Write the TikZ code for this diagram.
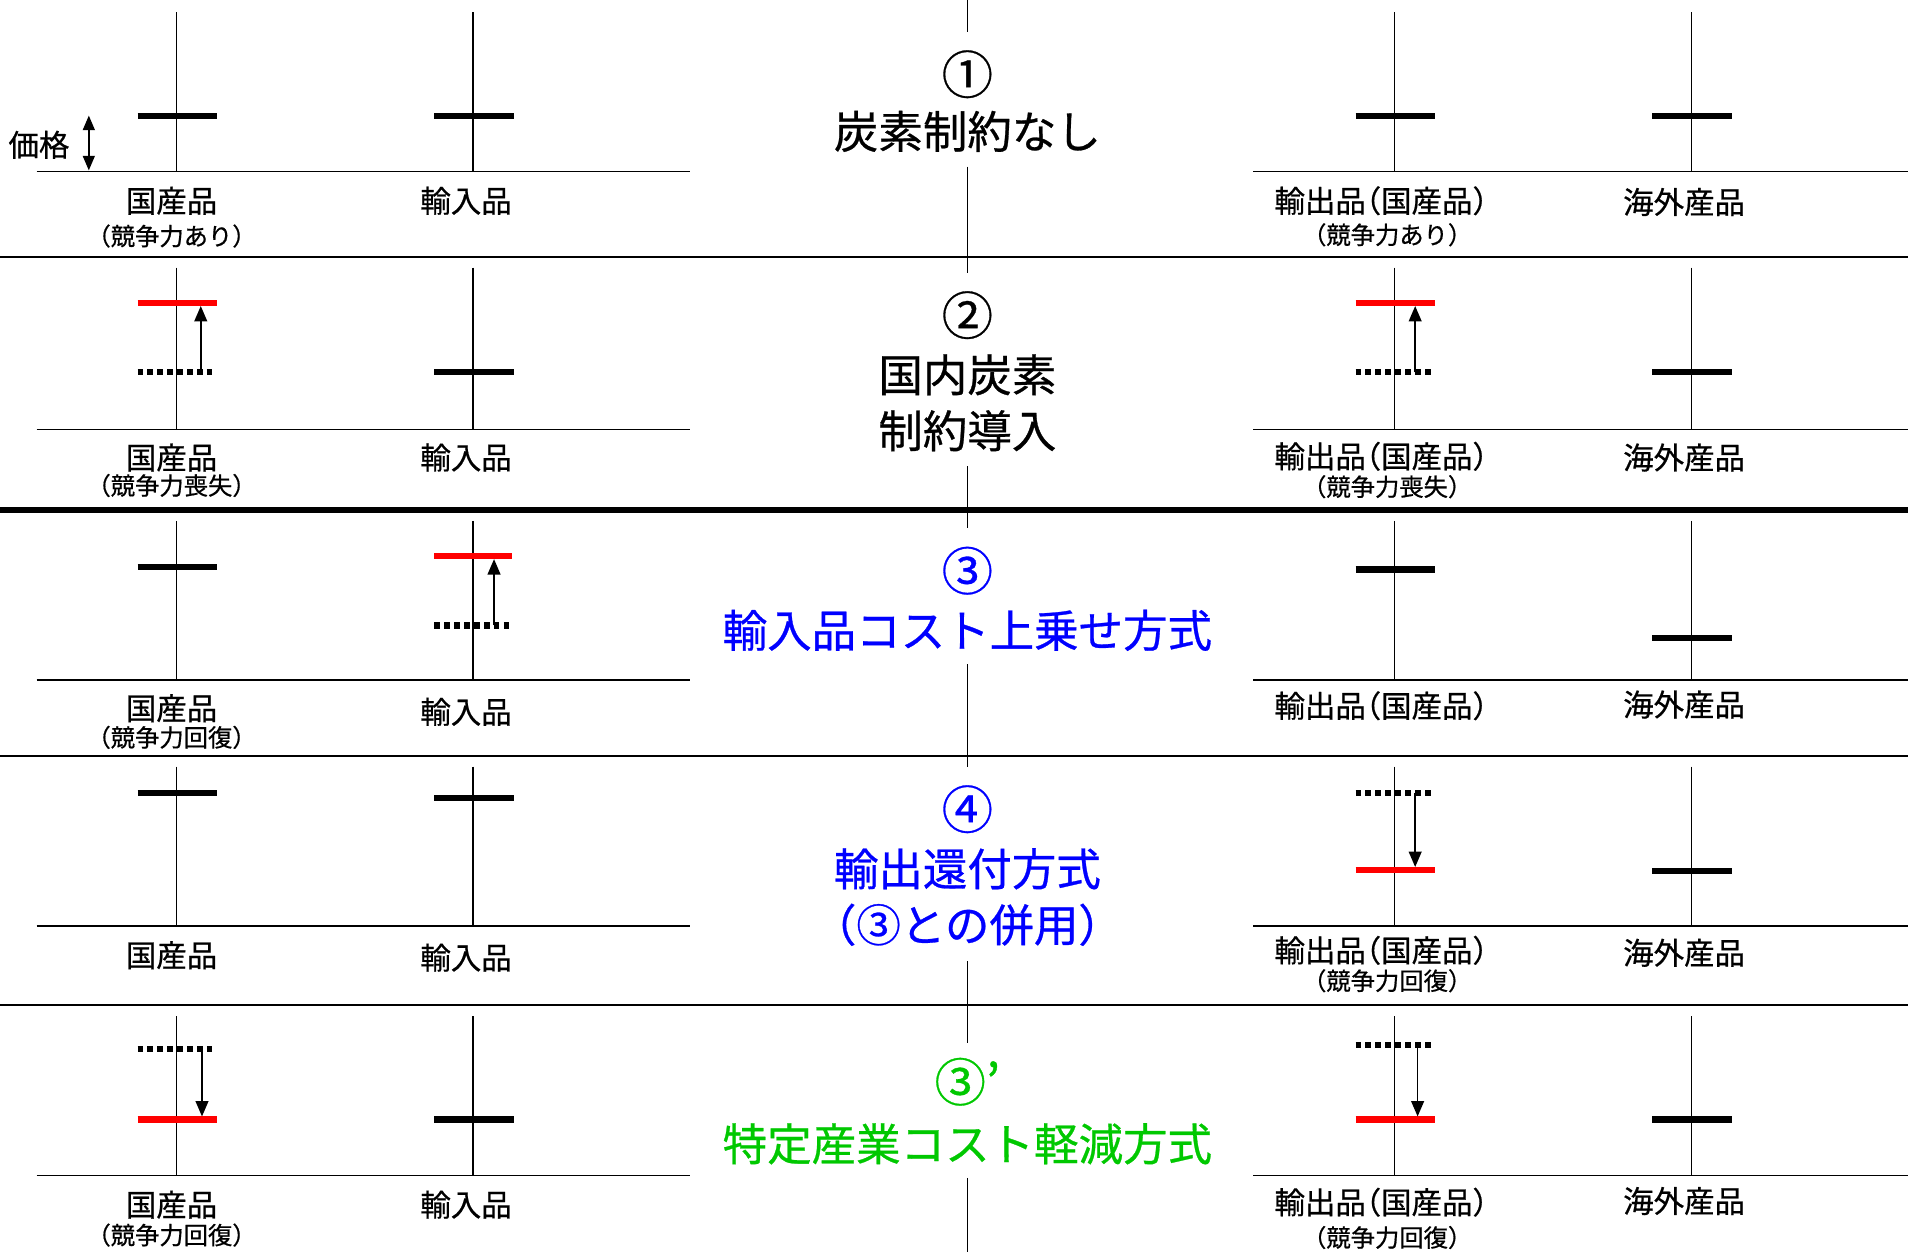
\documentclass[tikz,border=0pt]{standalone}
\usepackage{fontspec}
\setmainfont{Noto Sans CJK JP}
\newfontfamily\jp{Noto Sans CJK JP}[FakeBold=0.6]
\newfontfamily\jph{Noto Sans CJK JP}[RawFeature=+halt,FakeBold=0.6]
\usetikzlibrary{arrows.meta}
\definecolor{tblue}{RGB}{0,0,255}
\definecolor{tgreen}{RGB}{0,200,0}
\definecolor{tred}{RGB}{255,0,0}
\begin{document}
\begin{tikzpicture}[x=0.025cm,y=-0.025cm,
  thinln/.style={line width=1pt},
  thickln/.style={line width=3.5pt},
  pbar/.style={line width=3.6pt},
  rbar/.style={line width=3.6pt,draw=tred},
  dbar/.style={line width=3.6pt,dash pattern=on 3.2pt off 2.6pt},
  move/.style={line width=0.9pt,-{Triangle[width=7.5pt,length=9pt]}},
  lab/.style={font=\jph\fontsize{17.8}{20}\selectfont,inner sep=0pt},
  sub/.style={font=\jph\fontsize{14.2}{16}\selectfont,inner sep=0pt},
  ttl/.style={font=\jp\fontsize{26}{30}\selectfont,inner sep=0pt},
  num/.style={font=\jp\fontsize{30}{34}\selectfont,inner sep=0pt},
]
\useasboundingbox (0,0) rectangle (1568,1029);
\fill[white] (0,0) rectangle (1568,1029);

% separators
\draw[thinln] (0,211) -- (1568,211);
\draw[thickln] (0,419) -- (1568,419);
\draw[thinln] (0,621) -- (1568,621);
\draw[thinln] (0,826) -- (1568,826);

% center line segments
\foreach \a/\b in {0/26,137/224,383/434,546/630,790/857,968/1029}
  \draw[thinln] (795,\a) -- (795,\b);

% baselines and vertical axes
\foreach \t/\bb in {10/141,220/353,428/559,630/761,835/966}{
  \draw[thinln] (30,\bb) -- (567,\bb);
  \draw[thinln] (1030,\bb) -- (1568,\bb);
  \foreach \c in {145,389,1146,1390}
    \draw[thinln] (\c,\t) -- (\c,\bb);
}

% ---------- Row 1 ----------
\foreach \c in {145,389,1146,1390}
  \draw[pbar] (\c-32,95) -- (\c+33,95);
\coordinate (pa) at (73,95);
\coordinate (pb) at (73,140);
\draw[line width=0.9pt,{Triangle[width=7pt,length=8.5pt]}-{Triangle[width=7pt,length=8.5pt]}] (pa) -- (pb);
\node[lab] (kakaku) at (32,119) {価格};
\node[num] (t1a) at (795,61) {①};
\node[ttl] (t1b) at (795,108) {炭素制約なし};
\node[lab] (l1a) at (141,165) {国産品};
\node[sub] (s1a) at (141,194) {（競争力あり）};
\node[lab] (l1b) at (383,165) {輸入品};
\node[lab] (l1c) at (1135,165) {輸出品（国産品）};
\node[sub] (s1c) at (1140,193) {（競争力あり）};
\node[lab] (l1d) at (1384,166) {海外産品};

% ---------- Row 2 ----------
\draw[rbar] (113,249) -- (178,249);
\draw[dbar] (113,306) -- (178,306);
\draw[pbar] (357,306) -- (422,306);
\draw[rbar] (1114,249) -- (1179,249);
\draw[dbar] (1114,306) -- (1179,306);
\draw[pbar] (1358,306) -- (1423,306);
\coordinate (a2s) at (165,306); \coordinate (a2e) at (165,251.5);
\coordinate (b2s) at (1163,306); \coordinate (b2e) at (1163,251.5);
\draw[move] (a2s) -- (a2e);
\draw[move] (b2s) -- (b2e);
\node[num] (t2a) at (795,259) {②};
\node[ttl] (t2b) at (795,308) {国内炭素};
\node[ttl] (t2c) at (795,354) {制約導入};
\node[lab] (l2a) at (141,376) {国産品};
\node[sub] (s2a) at (141,399) {（競争力喪失）};
\node[lab] (l2b) at (383,376) {輸入品};
\node[lab] (l2c) at (1135,375) {輸出品（国産品）};
\node[sub] (s2c) at (1140,400) {（競争力喪失）};
\node[lab] (l2d) at (1384,376) {海外産品};

% ---------- Row 3 ----------
\draw[pbar] (113,466) -- (178,466);
\draw[rbar] (357,457) -- (421,457);
\draw[dbar] (357,514) -- (421,514);
\draw[pbar] (1114,468) -- (1179,468);
\draw[pbar] (1358,524) -- (1423,524);
\coordinate (a3s) at (406,514); \coordinate (a3e) at (406,459.5);
\draw[move] (a3s) -- (a3e);
\node[num,text=tblue] (t3a) at (795,469) {③};
\node[ttl,text=tblue] (t3b) at (795,518) {輸入品コスト上乗せ方式};
\node[lab] (l3a) at (141,582) {国産品};
\node[sub] (s3a) at (141,606) {（競争力回復）};
\node[lab] (l3b) at (383,585) {輸入品};
\node[lab] (l3c) at (1135,580) {輸出品（国産品）};
\node[lab] (l3d) at (1384,579) {海外産品};

% ---------- Row 4 ----------
\draw[pbar] (113,652) -- (178,652);
\draw[pbar] (357,656) -- (422,656);
\draw[dbar] (1114,652) -- (1179,652);
\draw[rbar] (1114,715) -- (1179,715);
\draw[pbar] (1358,716) -- (1423,716);
\coordinate (b4s) at (1163,652); \coordinate (b4e) at (1163,712.5);
\draw[move] (b4s) -- (b4e);
\node[num,text=tblue] (t4a) at (795,665) {④};
\node[ttl,text=tblue] (t4b) at (795,714) {輸出還付方式};
\node[ttl,text=tblue] (t4c) at (795,760) {（③との併用）};
\node[lab] (l4a) at (141,785) {国産品};
\node[lab] (l4b) at (383,787) {輸入品};
\node[lab] (l4c) at (1135,781) {輸出品（国産品）};
\node[sub] (s4c) at (1140,806) {（競争力回復）};
\node[lab] (l4d) at (1384,783) {海外産品};

% ---------- Row 5 ----------
\draw[dbar] (113,862) -- (178,862);
\draw[rbar] (113,920) -- (178,920);
\draw[pbar] (357,920) -- (422,920);
\draw[dbar] (1114,859) -- (1179,859);
\draw[rbar] (1114,920) -- (1179,920);
\draw[pbar] (1358,920) -- (1423,920);
\coordinate (a5s) at (166,862); \coordinate (a5e) at (166,917.5);
\coordinate (b5s) at (1165,859); \coordinate (b5e) at (1165,917.5);
\draw[move] (a5s) -- (a5e);
\draw[move] (b5s) -- (b5e);
\node[num,text=tgreen] (t5a) at (795,889) {③’};
\node[ttl,text=tgreen] (t5b) at (795,940) {特定産業コスト軽減方式};
\node[lab] (l5a) at (141,990) {国産品};
\node[sub] (s5a) at (141,1015) {（競争力回復）};
\node[lab] (l5b) at (383,990) {輸入品};
\node[lab] (l5c) at (1135,988) {輸出品（国産品）};
\node[sub] (s5c) at (1140,1017) {（競争力回復）};
\node[lab] (l5d) at (1384,987) {海外産品};
\end{tikzpicture}
\end{document}
